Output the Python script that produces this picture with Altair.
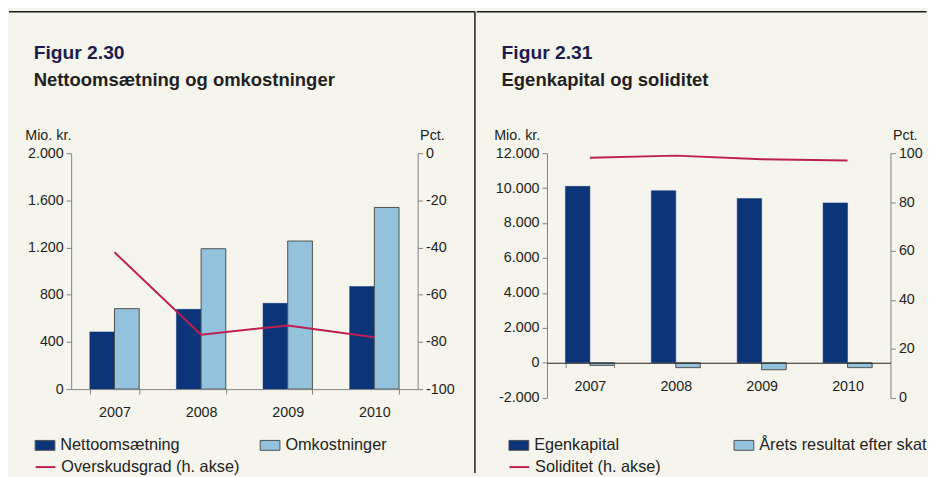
import altair as alt
import pandas as pd

years = ["2007", "2008", "2009", "2010"]

# Figur 2.30
netto = [485, 676, 727, 869]
omk = [682, 1190, 1255, 1540]
overskud = [-42, -77, -73, -78]

# Figur 2.31
egenkapital = [10100, 9850, 9400, 9150]
resultat = [-150, -280, -400, -280]
soliditet = [98.1, 99.0, 97.5, 97.0]

NAVY = "#0b3479"
LIGHT = "#93c2dc"
OUTLINE = "#505050"
RED = "#bf1f50"
FONT = "Liberation Sans"
TEXT = "#231f20"
AXIS = "#808080"
CREAM = "#f5f5ee"
BORDER = "#1a1a1a"

thousands = "(datum.value < 0 ? '-' : '') + replace(format(abs(datum.value), ','), ',', '.')"
plain = "(datum.value < 0 ? '-' : '') + format(abs(datum.value), 'd')"


def panel(names, vals_a, vals_b, line_name, line_vals, ydom, yvals, y2dom, y2vals,
          W, H, fig, sub, title_dx, legend_x, ytitle_x, xoffset, zero_color,
          colpad, rule_x1, rule_x2, divider):
    df_a = pd.DataFrame({"year": years, "series": [names[0]] * 4, "value": vals_a})
    df_b = pd.DataFrame({"year": years, "series": [names[1]] * 4, "value": vals_b})
    line_df = pd.DataFrame({"year": years, "series": [line_name] * 4, "value": line_vals})
    deco_df = pd.DataFrame({"d": [0]})
    bar_w = W / 4 * 0.57 / 2

    x_enc = alt.X(
        "year:N", title=None, sort=years,
        scale=alt.Scale(paddingInner=0.43, paddingOuter=0.215),
        axis=alt.Axis(labelAngle=0, tickBand="extent", labelPadding=12,
                      offset=xoffset, domainColor=zero_color, zindex=1,
                      labelOverlap=False),
    )
    y_enc = alt.Y("value:Q",
                  scale=alt.Scale(domain=ydom, nice=False, zero=False),
                  axis=alt.Axis(values=yvals, title="Mio. kr.", titleAngle=0,
                                titleAlign="left", titleBaseline="alphabetic",
                                titleX=ytitle_x, titleY=-14, labelExpr=thousands,
                                labelOverlap=False))
    fill_enc = alt.Fill("series:N", sort=names,
                        scale=alt.Scale(domain=names, range=[NAVY, LIGHT]),
                        legend=alt.Legend(orient="none", legendX=legend_x, legendY=285.5,
                                          direction="horizontal", columns=2,
                                          columnPadding=colpad, title=None, padding=0,
                                          symbolType="M-1,-0.5H1V0.5H-1Z", symbolSize=400,
                                          symbolStrokeColor=OUTLINE, symbolStrokeWidth=1,
                                          labelOffset=5, labelLimit=400))
    bars_a = alt.Chart(df_a).mark_bar(width=bar_w, xOffset=-bar_w / 2,
                                      stroke=NAVY, strokeWidth=0.5).encode(
        x=x_enc, y=y_enc, fill=fill_enc)
    bars_b = alt.Chart(df_b).mark_bar(width=bar_w, xOffset=bar_w / 2,
                                      stroke=OUTLINE, strokeWidth=1).encode(
        x=x_enc, y=y_enc, fill=fill_enc)
    line = alt.Chart(line_df).mark_line(strokeWidth=2).encode(
        x=alt.X("year:N", sort=years),
        y=alt.Y("value:Q",
                scale=alt.Scale(domain=y2dom, nice=False, zero=False),
                axis=alt.Axis(orient="right", values=y2vals, title="Pct.", titleAngle=0,
                              titleAlign="left", titleBaseline="alphabetic",
                              titleX=2, titleY=-14, labelExpr=plain,
                              labelOverlap=False)),
        stroke=alt.Stroke("series:N",
                          scale=alt.Scale(domain=[line_name], range=[RED]),
                          legend=alt.Legend(orient="none", legendX=legend_x, legendY=307,
                                            title=None, padding=0, symbolType="stroke",
                                            symbolSize=400, symbolStrokeWidth=2,
                                            labelOffset=5, labelLimit=400)),
    )
    top = alt.Chart(deco_df).mark_rule(color=BORDER, strokeWidth=1.5).encode(
        x=alt.value(rule_x1), x2=alt.value(rule_x2), y=alt.value(-143.25))
    bars = alt.layer(bars_a, bars_b)
    layers = [bars, line, top]
    if divider:
        layers.append(alt.Chart(deco_df).mark_rule(color=BORDER, strokeWidth=1.5).encode(
            x=alt.value(rule_x2), y=alt.value(-143.25), y2=alt.value(324)))
    return alt.layer(*layers).resolve_scale(y="independent").properties(
        width=W, height=H,
        title=alt.TitleParams(
            text=fig, subtitle=sub, anchor="start", frame="group", dx=title_dx,
            offset=-80.5, font=FONT, fontSize=19.5, fontWeight="bold", color="#1c1b4d",
            subtitleFont=FONT, subtitleFontSize=18.7, subtitleFontWeight="bold",
            subtitleColor=TEXT, subtitlePadding=8),
    )


p1 = panel(["Nettoomsætning", "Omkostninger"], netto, omk,
           "Overskudsgrad (h. akse)", overskud,
           [0, 2000], [0, 400, 800, 1200, 1600, 2000],
           [-100, 0], [-100, -80, -60, -40, -20, 0],
           351, 239, "Figur 2.30", "Nettoomsætning og omkostninger",
           -38, -37, -47, 0, AXIS, 78, -63, 409, True)

p2 = panel(["Egenkapital", "Årets resultat efter skat"], egenkapital, resultat,
           "Soliditet (h. akse)", soliditet,
           [-2000, 12000], [-2000, 0, 2000, 4000, 6000, 8000, 10000, 12000],
           [0, 100], [0, 20, 40, 60, 80, 100],
           348, 247.7, "Figur 2.31", "Egenkapital og soliditet",
           -46, -39, -54, -35.4, TEXT, 113, -71.25, 384.5, False)

chart = alt.hconcat(p1, p2, spacing=0).resolve_scale(
    fill="independent", stroke="independent", x="independent"
).properties(padding=0).configure(
    background=CREAM, font=FONT
).configure_view(stroke=None).configure_axis(
    labelFont=FONT, labelFontSize=14.5, labelColor=TEXT,
    titleFont=FONT, titleFontSize=14.5, titleFontWeight="normal", titleColor=TEXT,
    domainColor=AXIS, tickColor=AXIS, tickSize=5, labelPadding=3, grid=False,
).configure_legend(
    labelFont=FONT, labelFontSize=16.5, labelColor=TEXT,
)

chart.save("out.html", embed_options={"renderer": "svg", "actions": False})
